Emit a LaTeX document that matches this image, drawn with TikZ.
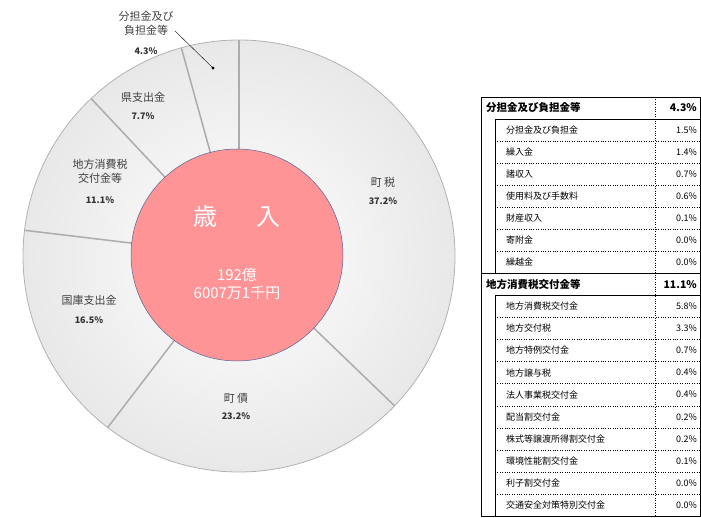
\documentclass[tikz,border=0pt]{standalone}
\usepackage{fontspec}
\usetikzlibrary{calc}
\setmainfont{Noto Sans CJK JP}
\begin{document}
\begin{tikzpicture}[x=1pt,y=-1pt,
  lab/.style={font=\fontsize{11}{14}\selectfont, text=black!75, align=center},
  pct/.style={font=\fontsize{9}{10}\selectfont\bfseries, text=black!80},
  sep/.style={draw=gray!65, line width=1.5pt},
  trow/.style={font=\fontsize{9}{10}\selectfont, anchor=west, inner sep=0},
  tval/.style={font=\fontsize{9}{10}\selectfont, anchor=east, inner sep=0},
  thead/.style={font=\fontsize{10.5}{11}\selectfont\bfseries, anchor=west, inner sep=0}]
\useasboundingbox (0,0) rectangle (701,518);
\coordinate (c) at (239,256);
% outer disc
\shade[inner color=white, outer color=gray!18] (c) circle (216);
\draw[gray!60, line width=0.8pt] (c) circle (216);
% separators
\foreach \a in {-90,43.92,127.44,186.84,226.8,254.52}{
  \draw[sep] (c) -- ++(\a:216);
}
% inner circle
\node[circle, fill={rgb,255:red,255;green,148;blue,150}, draw={rgb,255:red,80;green,100;blue,150}, line width=0.5pt, minimum size=212pt, inner sep=0] (ctr) at (237,255) {};
\node[font=\fontsize{24}{26}\selectfont, text=white] (t1) at (237,216) {歳\hspace{1.6em}入};
\node[font=\fontsize{15}{18}\selectfont, text=white, align=center] (t2) at (237,284) {192億\\6007万1千円};
% labels
\node[lab] (l1) at (383,182) {町 税};
\node[pct] (p1) at (383,201) {37.2\%};
\node[lab] (l2) at (236,398) {町 債};
\node[pct] (p2) at (236,416) {23.2\%};
\node[lab] (l3) at (89,300) {国庫支出金};
\node[pct] (p3) at (89,320) {16.5\%};
\node[lab] (l4) at (100,171) {地方消費税\\交付金等};
\node[pct] (p4) at (100,200) {11.1\%};
\node[lab] (l5) at (143,97) {県支出金};
\node[pct] (p5) at (143,116) {7.7\%};
\node[lab] (l6) at (146,23) {分担金及び\\負担金等};
\node[pct] (p6) at (146,51) {4.3\%};
\coordinate (dot) at (213,68);
\draw (l6.east) ++(-2,8) -- (dot);
\fill (dot) circle (1.6);
% table
\def\rh{22.05}
\draw[line width=0.7pt] (481,97) rectangle (700,516);
\draw[dotted] (655,97) -- (655,516);
\foreach \i in {1,...,18}{
  \pgfmathsetmacro\yy{97+\i*\rh}
  \ifnum\i=8 \draw (481,\yy) -- (700,\yy);
  \else \ifnum\i=1 \draw (495,\yy) -- (700,\yy);
  \else \ifnum\i=9 \draw (495,\yy) -- (700,\yy);
  \else \draw[dotted] (495,\yy) -- (700,\yy); \fi\fi\fi
}
\draw (495,119.05) -- (495,273.4);
\draw (495,295.45) -- (495,516);
\node[thead] (h1) at (486,108) {分担金及び負担金等};
\node[tval,font=\fontsize{10.5}{11}\selectfont\bfseries] (hv1) at (697,108) {4.3\%};
\node[thead] (h2) at (486,284.5) {地方消費税交付金等};
\node[tval,font=\fontsize{10.5}{11}\selectfont\bfseries] (hv2) at (697,284.5) {11.1\%};
\foreach \n/\v [count=\k] in {分担金及び負担金/1.5\%,繰入金/1.4\%,諸収入/0.7\%,使用料及び手数料/0.6\%,財産収入/0.1\%,寄附金/0.0\%,繰越金/0.0\%}{
  \pgfmathsetmacro\yy{97+\k*\rh+\rh/2}
  \node[trow] (a\k) at (506,\yy) {\n};
  \node[tval] (av\k) at (697,\yy) {\v};
}
\foreach \n/\v [count=\k] in {地方消費税交付金/5.8\%,地方交付税/3.3\%,地方特例交付金/0.7\%,地方譲与税/0.4\%,法人事業税交付金/0.4\%,配当割交付金/0.2\%,株式等譲渡所得割交付金/0.2\%,環境性能割交付金/0.1\%,利子割交付金/0.0\%,交通安全対策特別交付金/0.0\%}{
  \pgfmathsetmacro\yy{97+(\k+8)*\rh+\rh/2}
  \node[trow] (b\k) at (506,\yy) {\n};
  \node[tval] (bv\k) at (697,\yy) {\v};
}
\end{tikzpicture}
\end{document}
